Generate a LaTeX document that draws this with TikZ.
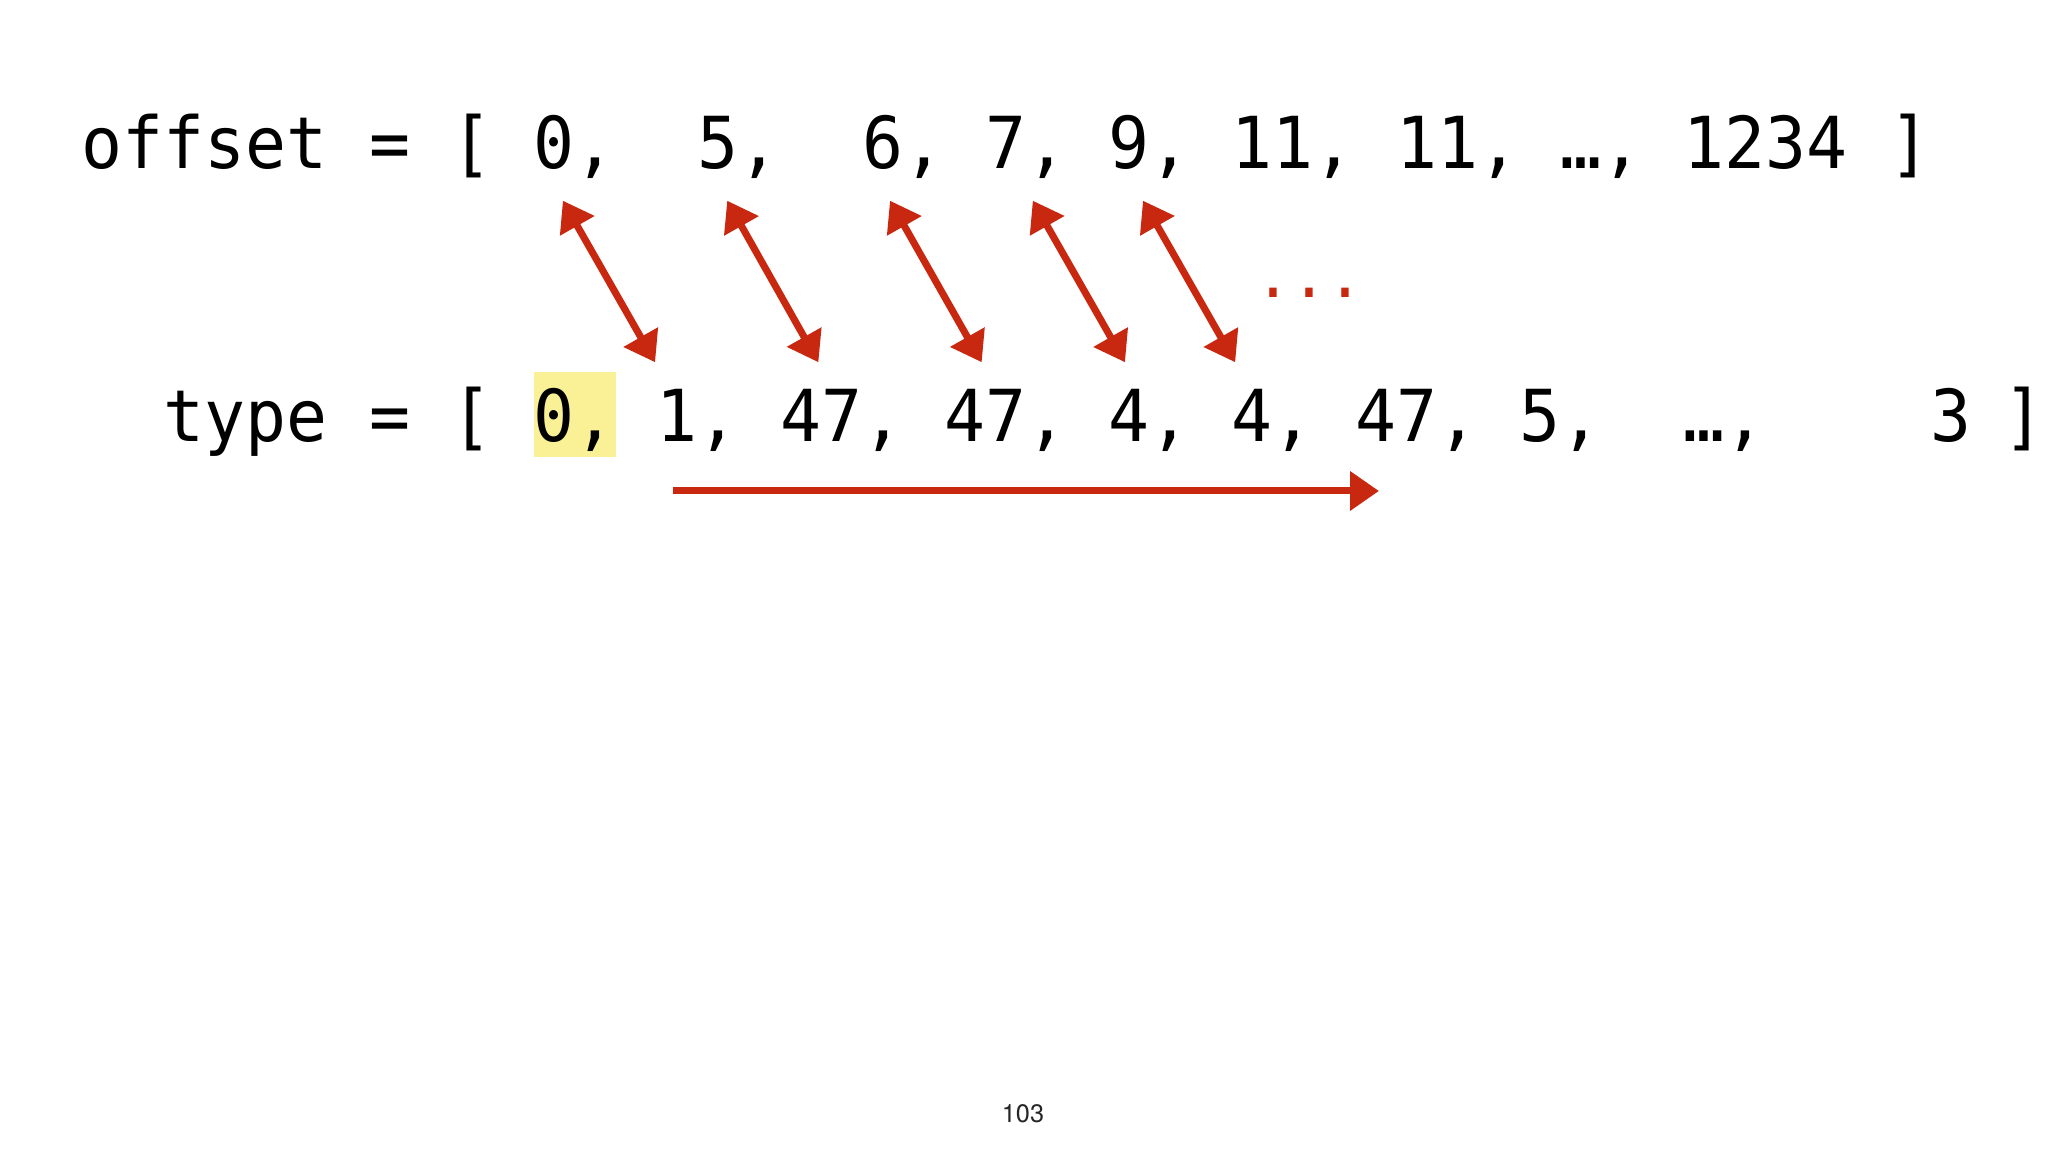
\documentclass[tikz,border=0pt]{standalone}
\usepackage{fontspec}
\usepackage{tikz}
\usetikzlibrary{arrows.meta}
\newfontfamily\codefont[FakeStretch=0.95]{DejaVu Sans Mono}
\newfontfamily\slidefont{TeX Gyre Heros}
\definecolor{penred}{RGB}{200,40,16}
\definecolor{markyellow}{RGB}{250,241,150}

\begin{document}
\begin{tikzpicture}[>={Triangle[length=2.9mm,width=3.8mm]},
  every node/.style={inner sep=0pt,anchor=base west},
  code/.style={font=\codefont\fontsize{20.4}{24}\selectfont,
    text height=5.2mm,text depth=1.2mm},
  hilite/.style={fill=markyellow,text height=7mm,text depth=1.5mm},
  link/.style={<->,color=penred,line width=2pt},
  scan/.style={->,color=penred,line width=2pt}]
  \useasboundingbox (0,0) rectangle (20.48,11.52);

  \node[code] (olabel) at (0.810,9.83)  {offset};
  \node[code] (oeq)    at (3.686,9.83)  {=};
  \node[code] (oopen)  at (4.507,9.83)  {[};
  \node[code] (o0)     at (5.329,9.83)  {0,};
  \node[code] (o1)     at (6.972,9.83)  {5,};
  \node[code] (o2)     at (8.615,9.83)  {6,};
  \node[code] (o3)     at (9.848,9.83)  {7,};
  \node[code] (o4)     at (11.080,9.83) {9,};
  \node[code] (o5)     at (12.312,9.83) {11,};
  \node[code] (o6)     at (13.956,9.83) {11,};
  \node[code] (odots)  at (15.599,9.83) {…,};
  \node[code] (olast)  at (16.831,9.83) {1234};
  \node[code] (oclose) at (18.885,9.83) {]};

  \node[code] (tlabel) at (1.632,7.10)  {type};
  \node[code] (teq)    at (3.686,7.10)  {=};
  \node[code] (topen)  at (4.507,7.10)  {[};
  \node[code,hilite] (t0) at (5.329,7.10) {0,};
  \node[code] (t1)     at (6.561,7.10)  {1,};
  \node[code] (t2)     at (7.794,7.10)  {47,};
  \node[code] (t3)     at (9.437,7.10)  {47,};
  \node[code] (t4)     at (11.080,7.10) {4,};
  \node[code] (t5)     at (12.312,7.10) {4,};
  \node[code] (t6)     at (13.545,7.10) {47,};
  \node[code] (t7)     at (15.188,7.10) {5,};
  \node[code] (tdots)  at (16.831,7.10) {…,};
  \node[code] (tlast)  at (19.296,7.10) {3};
  \node[code] (tclose) at (20.03,7.10)  {]};

  \node[font=\codefont\fontsize{17.9}{21}\selectfont,text=penred] (more)
    at (12.55,8.54) {...};

  \draw[link] ([shift={(0.30,-0.19)}]o0.south west) -- ([shift={(-0.01,0.27)}]t1.north west);
  \draw[link] ([shift={(0.30,-0.19)}]o1.south west) -- ([shift={(0.39,0.27)}]t2.north west);
  \draw[link] ([shift={(0.285,-0.19)}]o2.south west) -- ([shift={(0.38,0.27)}]t3.north west);
  \draw[link] ([shift={(0.48,-0.19)}]o3.south west) -- ([shift={(0.17,0.27)}]t4.north west);
  \draw[link] ([shift={(0.35,-0.19)}]o4.south west) -- ([shift={(0.04,0.27)}]t5.north west);

  \draw[scan] ([shift={(0.17,-0.49)}]t1.base west) -- ([shift={(0.245,-0.49)}]t6.base west);

  \node[font=\slidefont\fontsize{7.2}{9}\selectfont,text=black!85,anchor=base]
    (page) at (10.23,0.29) {103};
\end{tikzpicture}
\end{document}
